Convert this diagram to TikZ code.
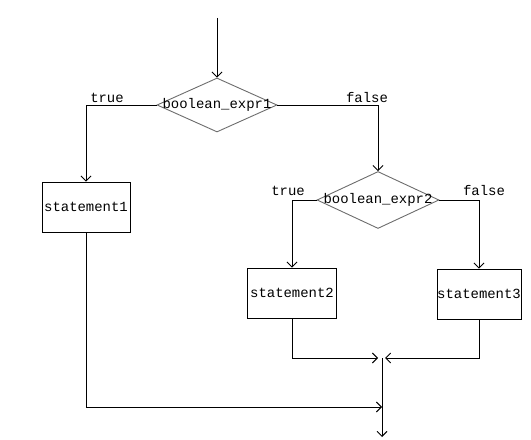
\documentclass[tikz,border=0pt]{standalone}
\usepackage{fontspec}
\setmonofont{Liberation Mono}
\usepackage{tikz}
\usetikzlibrary{arrows.meta,positioning,shapes.geometric,calc}

\begin{document}
\begin{tikzpicture}[
          x=1bp, y=-1bp,
          font=\ttfamily\fontsize{14}{16}\selectfont,
          arr/.style={-{Straight Barb[length=5bp,width=10bp]}, line width=0.9bp},
          cond/.style={draw=gray!85!black, line width=0.9bp, diamond, inner sep=0pt},
          stmt/.style={draw, line width=0.9bp, rectangle, inner sep=0pt},
          lbl/.style={inner sep=1bp}
      ]
        \useasboundingbox (0,0) rectangle (531,440);

        \coordinate (start) at (217,18);
        \node[cond, minimum width=120bp, minimum height=54bp,
              label={center:boolean\_expr1}] (d1) at (217,105) {};
        \node[cond, minimum width=122bp, minimum height=57bp,
              label={center:boolean\_expr2}] (d2) at (378,200) {};

        \node[stmt, minimum width=88bp, minimum height=50bp] (s1) at (86,207) {statement1};
        \node[stmt, minimum width=89bp, minimum height=50bp] (s2) at (292,293) {statement2};
        \node[stmt, minimum width=84bp, minimum height=50bp] (s3) at (479,294) {statement3};

        \coordinate (j) at (382,358);
        \coordinate (k) at (382,407);
        \coordinate (e) at (382,437);

        \draw[arr] (start) -- (d1.north);
        \draw[arr] (d1.west) -| (s1.north);
        \draw[arr] (d1.east) -| (d2.north);
        \draw[arr] (d2.west) -| (s2.north);
        \draw[arr] (d2.east) -| (s3.north);

        \draw[arr, shorten >=4bp] (s2.south) |- (j);
        \draw[arr, shorten >=3bp] (s3.south) |- (j);
        \draw[arr] (s1.south) |- (k);
        \draw[arr] (j) -- (e);

        \node[lbl] (t1) at (107,98) {true};
        \node[lbl] (f1) at (367,98) {false};
        \node[lbl] (t2) at (288,191) {true};
        \node[lbl] (f2) at (484,191) {false};
      \end{tikzpicture}
\end{document}
